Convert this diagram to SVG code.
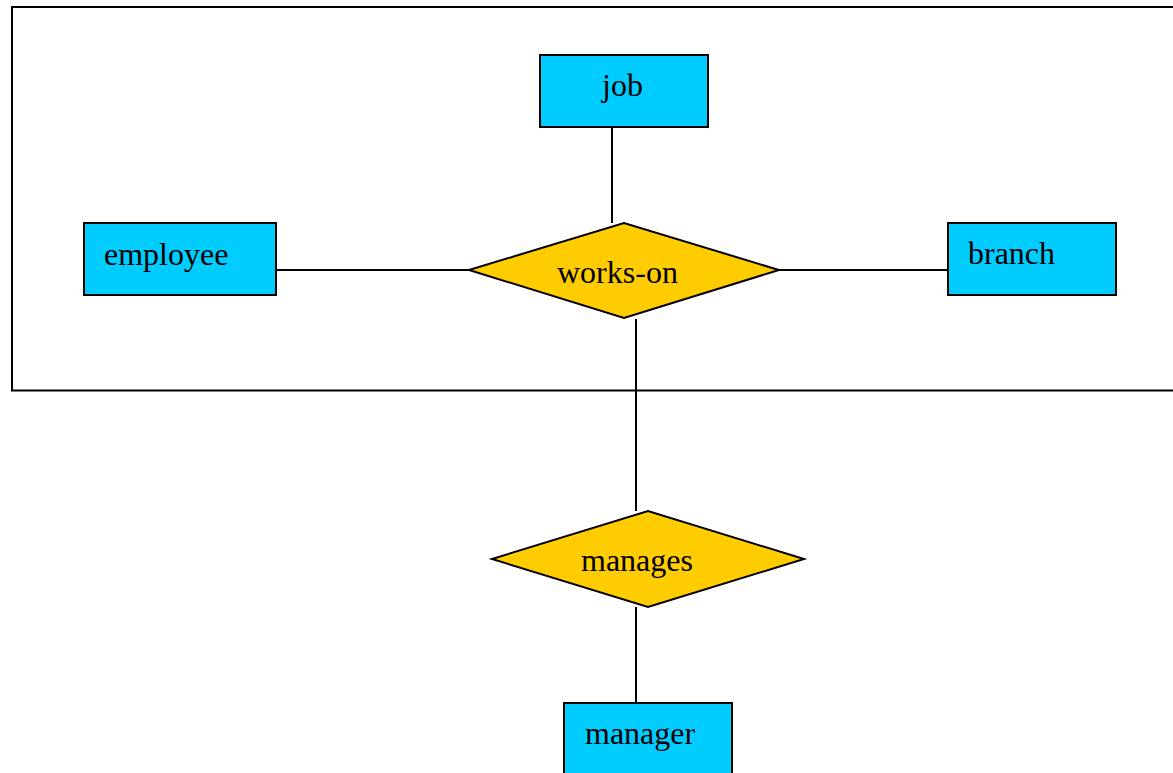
<svg xmlns="http://www.w3.org/2000/svg" width="1173" height="773" viewBox="0 0 1173 773">
<style>
.ent{fill:#00CCFF;stroke:#000;stroke-width:2}
.rel{fill:#FFCC00;stroke:#000;stroke-width:2}
.ln{stroke:#000;stroke-width:2;fill:none}
.t{font-family:"Liberation Serif","Times New Roman",serif;font-size:32px;fill:#000}
</style>
<rect width="1173" height="773" fill="#fff"/>
<rect id="aggregation" x="12" y="7" width="1175" height="383.5" class="ln"/>
<g id="connectors">
<line x1="612" y1="127" x2="612" y2="223" class="ln"/>
<line x1="276" y1="270" x2="469" y2="270" class="ln"/>
<line x1="779" y1="270" x2="948" y2="270" class="ln"/>
<line x1="636" y1="319" x2="636" y2="511" class="ln"/>
<line x1="636" y1="607" x2="636" y2="703" class="ln"/>
</g>
<g id="job">
<rect x="540" y="55" width="168" height="72" class="ent"/>
<text x="602" y="96" class="t">job</text>
</g>
<g id="employee">
<rect x="84" y="223" width="192" height="72" class="ent"/>
<text x="104" y="265" class="t">employee</text>
</g>
<g id="branch">
<rect x="948" y="223" width="168" height="72" class="ent"/>
<text x="968" y="264" class="t">branch</text>
</g>
<g id="works-on">
<polygon points="469,270 624,223 779,270 624,318" class="rel"/>
<text x="557" y="283" class="t">works-on</text>
</g>
<g id="manages">
<polygon points="492,559 648,511 804,559 648,607" class="rel"/>
<text x="581" y="571" class="t">manages</text>
</g>
<g id="manager">
<rect x="564" y="703" width="168" height="80" class="ent"/>
<text x="585" y="744" class="t">manager</text>
</g>
</svg>
